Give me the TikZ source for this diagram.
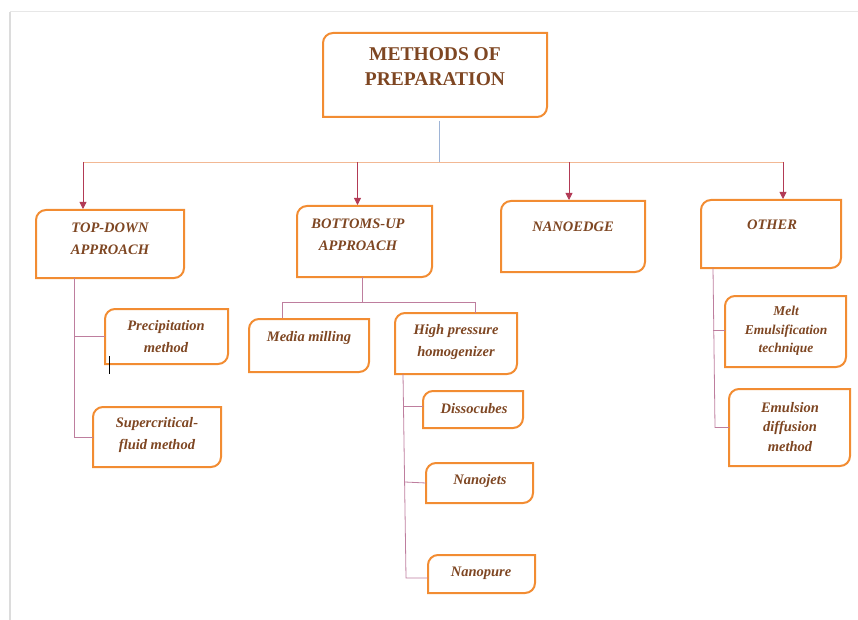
\documentclass[tikz,border=0pt]{standalone}
\usepackage{fontspec}
\setmainfont{Liberation Serif}
\usetikzlibrary{calc,arrows.meta}
\definecolor{boxor}{HTML}{F28C32}
\definecolor{txtbr}{HTML}{7E4622}
\definecolor{connm}{HTML}{BE7E9E}
\definecolor{toph}{HTML}{F2B894}
\definecolor{arrr}{HTML}{B23A55}
\definecolor{bluel}{HTML}{9EB4D6}
\definecolor{pageg}{HTML}{DCDCDC}
\tikzset{
  boxline/.style={draw=boxor,line width=2pt},
  txt/.style={text=txtbr,font=\fontsize{14.5}{22}\selectfont\bfseries\itshape,align=center,inner sep=0pt},
  conn/.style={draw=connm,line width=0.8pt},
  arr/.style={draw=arrr,line width=0.8pt,-{Triangle[length=7pt,width=7pt]}},
}
\newcommand\pbox[5]{%
  \node[inner sep=0pt,outer sep=0pt,minimum width=#4pt-#2pt,minimum height=#5pt-#3pt,anchor=north west] (#1) at (#2,#3) {};
  \draw[boxline] ($(#1.north west)+(10,0)$) -- (#1.north east) -- ($(#1.south east)+(0,-10)$)
    arc[start angle=0,end angle=-90,radius=10pt] -- (#1.south west) -- ($(#1.north west)+(0,10)$)
    arc[start angle=180,end angle=90,radius=10pt] -- cycle;}
\begin{document}
\begin{tikzpicture}[x=1pt,y=-1pt]
\useasboundingbox (0,0) rectangle (858,620);
% page edges
\draw[pageg,line width=2.5pt] (10,12) -- (10,620);
\draw[pageg!70,line width=1pt] (10,12) -- (858,12);
% boxes
\pbox{title}{323}{33}{547}{117}
\pbox{td}{36}{210}{184}{278}
\pbox{bu}{297}{206}{432}{277}
\pbox{ne}{501}{201}{645}{272}
\pbox{ot}{701}{200}{841}{268}
\pbox{prec}{105}{309}{228}{364}
\pbox{sup}{93}{407}{221}{467}
\pbox{media}{249}{319}{369}{372}
\pbox{hp}{395}{313}{517}{374}
\pbox{diss}{423}{391}{523}{428}
\pbox{njet}{426}{463}{533}{503}
\pbox{npure}{428}{555}{535}{593}
\pbox{melt}{725}{296}{846}{367}
\pbox{emul}{729}{389}{850}{466}
% texts
\node[txt,font=\fontsize{19.5}{25}\selectfont\bfseries] (title-t) at (435,67) {METHODS OF\\PREPARATION};
\node[txt] (td-t) at (110,239) {TOP-DOWN\\APPROACH};
\node[txt] (bu-t) at (358,235) {BOTTOMS-UP\\APPROACH};
\node[txt] (ne-t) at (573,227) {NANOEDGE};
\node[txt] (ot-t) at (772,225) {OTHER};
\node[txt] (prec-t) at (166,337) {Precipitation\\method};
\node[txt] (sup-t) at (157,435) {Supercritical-\\fluid method};
\node[txt] (media-t) at (309,338) {Media milling};
\node[txt] (hp-t) at (456,342) {High pressure\\homogenizer};
\node[txt] (diss-t) at (474,409) {Dissocubes};
\node[txt] (njet-t) at (480,481) {Nanojets};
\node[txt] (npure-t) at (481,573) {Nanopure};
\node[txt,font=\fontsize{13.5}{18.5}\selectfont\bfseries\itshape] (melt-t) at (786,331) {Melt\\Emulsification\\technique};
\node[txt,font=\fontsize{14.5}{19.5}\selectfont\bfseries\itshape] (emul-t) at (790,427) {Emulsion\\diffusion\\method};
% main connectors
\coordinate (hub) at ($(title.south)+(4,45)$);
\coordinate (hl) at ($(hub -| td.north west)+(47,0)$);
\coordinate (hr) at ($(hub -| ot.north west)+(82,0)$);
\draw[bluel,line width=0.9pt] ($(title.south)+(4,4)$) -- (hub);
\draw[toph,line width=0.9pt] (hl) -- (hr);
\draw[arr] (hl) -- ++(0,47);
\draw[arr] ($(hub -| bu.north)+(-7,0)$) -- ++(0,43);
\draw[arr] ($(hub -| ne.north)+(-4,0)$) -- ++(0,38);
\draw[arr] (hr) -- ++(0,37);
% top-down children
\draw[conn] ($(td.south west)+(38,0)$) |- (prec.west);
\draw[conn] ($(td.south west)+(38,0)$) |- (sup.west);
% bottoms-up children
\coordinate (buj) at ($(bu.south west)+(65,25)$);
\coordinate (mtop) at ($(buj -| media.north west)+(33,0)$);
\coordinate (htop) at ($(buj -| hp.north west)+(80,0)$);
\draw[conn] ($(bu.south west)+(65,0)$) -- (buj);
\draw[conn] (mtop) -- (htop);
\draw[conn] (mtop) -- ++(0,16);
\draw[conn] (htop) -- ++(0,11);
% high pressure children
\draw[conn] ($(hp.south west)+(8,0)$) -- ($(npure.west)+(-22,4)$) -- ($(npure.west)+(0,4)$);
\draw[conn] ($(diss.west)+(-19,-3)$) -- ($(diss.west)+(0,-3)$);
\draw[conn] ($(njet.west)+(-21,-1)$) -- (njet.west);
% other children
\draw[conn] ($(ot.south west)+(12,0)$) -- ($(emul.west)+(-14,0)$) -- (emul.west);
\draw[conn] ($(melt.west)+(-12,-1)$) -- ($(melt.west)+(0,-1)$);
% stray cursor mark
\draw[black,line width=0.8pt] (109,356) -- (109,374);
\end{tikzpicture}
\end{document}
